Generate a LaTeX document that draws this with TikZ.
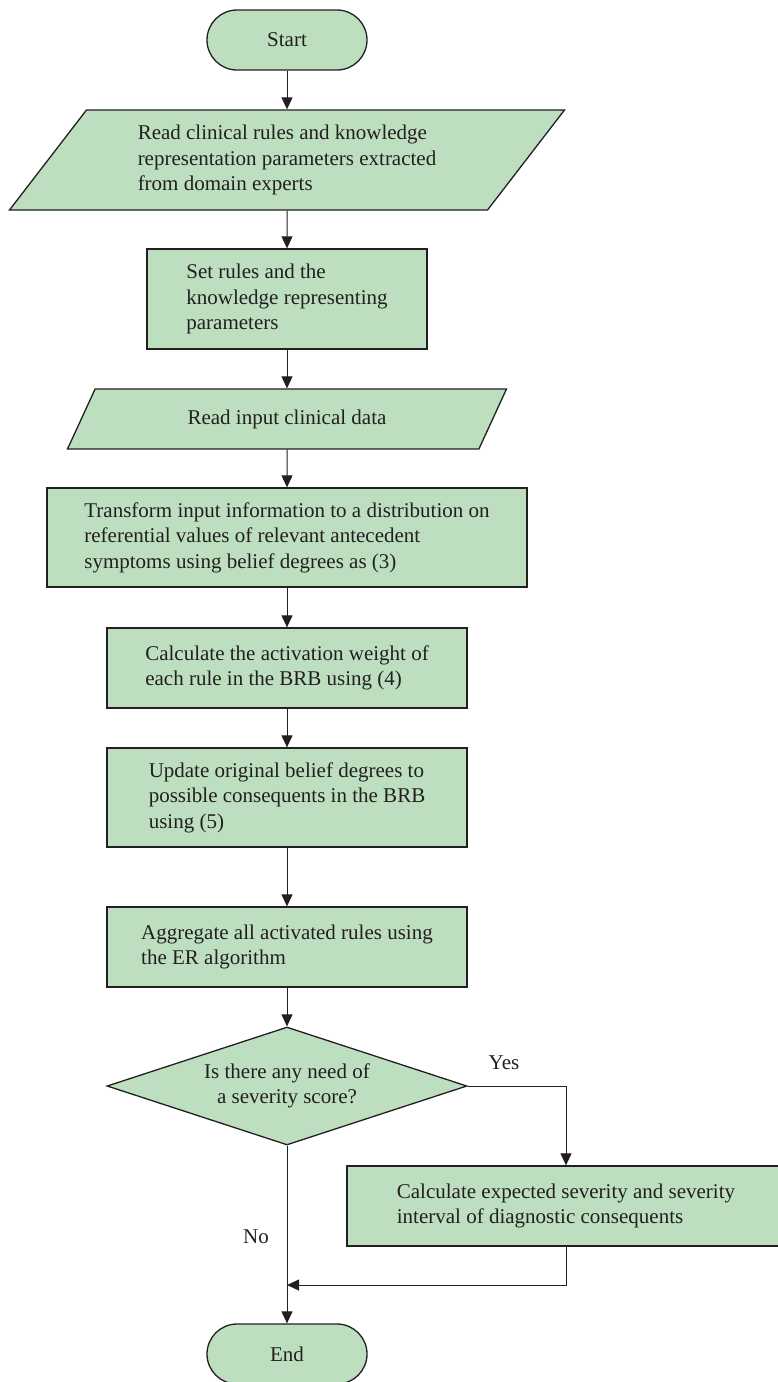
\documentclass[tikz,border=0pt]{standalone}
\usepackage{fontspec}
\setmainfont{Liberation Serif}
\usetikzlibrary{shapes.geometric,arrows.meta}
\definecolor{boxgreen}{RGB}{189,223,192}
\definecolor{inkgray}{RGB}{35,31,32}

\begin{document}
\begin{tikzpicture}[x=1pt,y=-1pt,
  font=\fontsize{21}{25.5}\selectfont,
  every node/.style={inner sep=0pt,text=inkgray},
  terminal/.style={draw=inkgray,line width=1.3pt,fill=boxgreen,rounded corners=30pt,minimum width=160pt,minimum height=60pt},
  process/.style={draw=inkgray,line width=1.3pt,fill=boxgreen,align=left,minimum width=360pt,minimum height=80pt},
  io/.style={trapezium,trapezium stretches body,draw=inkgray,line width=1.3pt,fill=boxgreen,align=left},
  choice/.style={diamond,aspect=3.05,draw=inkgray,line width=1.3pt,fill=boxgreen,align=center,minimum width=360pt,minimum height=118pt},
  flow/.style={draw=inkgray,line width=1pt,-{Triangle[length=12pt,width=11pt]}}]

\useasboundingbox (0,0) rectangle (777,1382);

% start
\node[terminal] (start) at (287,40) {Start};

% read rules and parameters
\node[io,minimum width=555pt,minimum height=100pt,trapezium left angle=42.3,trapezium right angle=137.7] (readrules) at (287,160)
  {Read clinical rules and knowledge\\representation parameters extracted\\from domain experts};

% set rules
\node[process,minimum width=280pt,minimum height=100pt] (setrules) at (287,299)
  {Set rules and the\\knowledge representing\\parameters};

% read data
\node[io,minimum width=439pt,minimum height=60pt,trapezium left angle=34.6,trapezium right angle=145.4] (readdata) at (287,419)
  {Read input clinical data};

% transform input
\node[process,minimum width=480pt,minimum height=99pt] (transform) at (287,537.5)
  {Transform input information to a distribution on\\referential values of relevant antecedent\\symptoms using belief degrees as (3)};

% activation weight
\node[process] (activation) at (287,668)
  {Calculate the activation weight of\\each rule in the BRB using (4)};

% update belief degrees
\node[process,minimum height=99pt] (update) at (287,797.5)
  {Update original belief degrees to\\possible consequents in the BRB\\using (5)};

% aggregate
\node[process] (aggregate) at (287,947)
  {Aggregate all activated rules using\\the ER algorithm};

% decision
\node[choice] (query) at (287,1086) {Is there any need of\\a severity score?};

% severity
\node[process,minimum width=438pt] (severity) at (566,1206)
  {Calculate expected severity and severity\\interval of diagnostic consequents};

% end
\node[terminal] (stop) at (287,1354) {End};

% labels
\node (yes) at (504,1063) {Yes};
\node (no) at (256,1237) {No};
\coordinate (join) at (287,1285);

% connectors
\draw[flow] (start) -- (readrules);
\draw[flow] (readrules) -- (setrules);
\draw[flow] (setrules) -- (readdata);
\draw[flow] (readdata) -- (transform);
\draw[flow] (transform) -- (activation);
\draw[flow] (activation) -- (update);
\draw[flow] (update) -- (aggregate);
\draw[flow] (aggregate) -- (query);
\draw[flow] (query.east) -| (severity.north);
\draw[flow] (severity.south) |- (join);
\draw[flow] (query.south) -- (stop.north);

\end{tikzpicture}
\end{document}
